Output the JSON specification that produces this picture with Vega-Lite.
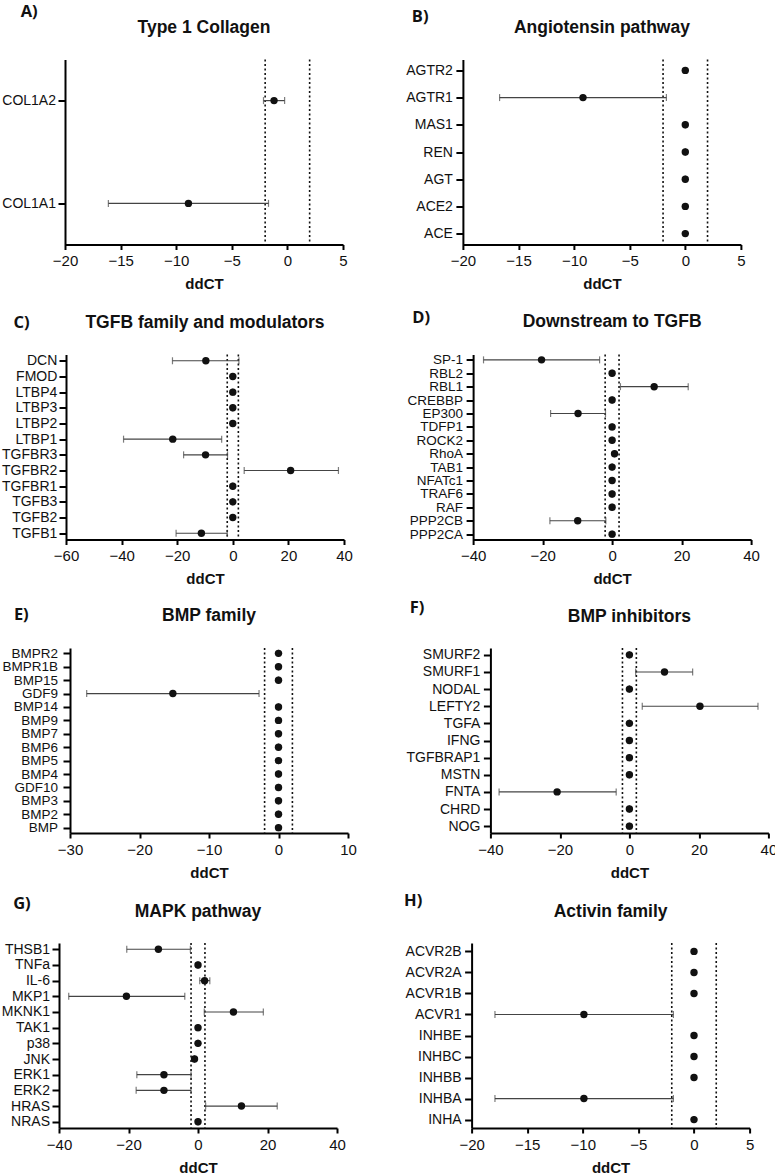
{
  "$schema": "https://vega.github.io/schema/vega-lite/v6.json",
  "background": "white",
  "padding": {"left": 0, "top": 3.5, "right": 0, "bottom": 0},
  "datasets": {
    "cuts": [{"cut": -2}, {"cut": 2}],
    "none": [],
    "genes": [
      {"panel": "A", "gene": "COL1A2", "ddct": -1.2, "lo": -2.15, "hi": -0.25},
      {"panel": "A", "gene": "COL1A1", "ddct": -8.9, "lo": -16.1, "hi": -1.7},

      {"panel": "B", "gene": "AGTR2", "ddct": 0, "lo": 0, "hi": 0},
      {"panel": "B", "gene": "AGTR1", "ddct": -9.2, "lo": -16.7, "hi": -1.7},
      {"panel": "B", "gene": "MAS1", "ddct": 0, "lo": 0, "hi": 0},
      {"panel": "B", "gene": "REN", "ddct": 0, "lo": 0, "hi": 0},
      {"panel": "B", "gene": "AGT", "ddct": 0, "lo": 0, "hi": 0},
      {"panel": "B", "gene": "ACE2", "ddct": 0, "lo": 0, "hi": 0},
      {"panel": "B", "gene": "ACE", "ddct": 0, "lo": 0, "hi": 0},

      {"panel": "C", "gene": "DCN", "ddct": -9.7, "lo": -21.7, "hi": 2.2},
      {"panel": "C", "gene": "FMOD", "ddct": 0, "lo": 0, "hi": 0},
      {"panel": "C", "gene": "LTBP4", "ddct": 0, "lo": 0, "hi": 0},
      {"panel": "C", "gene": "LTBP3", "ddct": 0, "lo": 0, "hi": 0},
      {"panel": "C", "gene": "LTBP2", "ddct": 0, "lo": 0, "hi": 0},
      {"panel": "C", "gene": "LTBP1", "ddct": -21.6, "lo": -39.3, "hi": -4.0},
      {"panel": "C", "gene": "TGFBR3", "ddct": -9.8, "lo": -17.7, "hi": -1.9},
      {"panel": "C", "gene": "TGFBR2", "ddct": 20.8, "lo": 4.1, "hi": 38.0},
      {"panel": "C", "gene": "TGFBR1", "ddct": 0, "lo": 0, "hi": 0},
      {"panel": "C", "gene": "TGFB3", "ddct": 0, "lo": 0, "hi": 0},
      {"panel": "C", "gene": "TGFB2", "ddct": 0, "lo": 0, "hi": 0},
      {"panel": "C", "gene": "TGFB1", "ddct": -11.3, "lo": -20.4, "hi": -2.0},

      {"panel": "D", "gene": "SP-1", "ddct": -20.3, "lo": -37.0, "hi": -3.6},
      {"panel": "D", "gene": "RBL2", "ddct": 0, "lo": 0, "hi": 0},
      {"panel": "D", "gene": "RBL1", "ddct": 12.1, "lo": 2.4, "hi": 21.9},
      {"panel": "D", "gene": "CREBBP", "ddct": 0, "lo": 0, "hi": 0},
      {"panel": "D", "gene": "EP300", "ddct": -9.8, "lo": -17.7, "hi": -1.9},
      {"panel": "D", "gene": "TDFP1", "ddct": 0, "lo": 0, "hi": 0},
      {"panel": "D", "gene": "ROCK2", "ddct": 0, "lo": 0, "hi": 0},
      {"panel": "D", "gene": "RhoA", "ddct": 0.7, "lo": 0.7, "hi": 0.7},
      {"panel": "D", "gene": "TAB1", "ddct": 0, "lo": 0, "hi": 0},
      {"panel": "D", "gene": "NFATc1", "ddct": 0, "lo": 0, "hi": 0},
      {"panel": "D", "gene": "TRAF6", "ddct": 0, "lo": 0, "hi": 0},
      {"panel": "D", "gene": "RAF", "ddct": 0, "lo": 0, "hi": 0},
      {"panel": "D", "gene": "PPP2CB", "ddct": -9.9, "lo": -17.9, "hi": -1.8},
      {"panel": "D", "gene": "PPP2CA", "ddct": 0, "lo": 0, "hi": 0},

      {"panel": "E", "gene": "BMPR2", "ddct": 0, "lo": 0, "hi": 0},
      {"panel": "E", "gene": "BMPR1B", "ddct": 0, "lo": 0, "hi": 0},
      {"panel": "E", "gene": "BMP15", "ddct": 0, "lo": 0, "hi": 0},
      {"panel": "E", "gene": "GDF9", "ddct": -15.2, "lo": -27.6, "hi": -2.8},
      {"panel": "E", "gene": "BMP14", "ddct": 0, "lo": 0, "hi": 0},
      {"panel": "E", "gene": "BMP9", "ddct": 0, "lo": 0, "hi": 0},
      {"panel": "E", "gene": "BMP7", "ddct": 0, "lo": 0, "hi": 0},
      {"panel": "E", "gene": "BMP6", "ddct": 0, "lo": 0, "hi": 0},
      {"panel": "E", "gene": "BMP5", "ddct": 0, "lo": 0, "hi": 0},
      {"panel": "E", "gene": "BMP4", "ddct": 0, "lo": 0, "hi": 0},
      {"panel": "E", "gene": "GDF10", "ddct": 0, "lo": 0, "hi": 0},
      {"panel": "E", "gene": "BMP3", "ddct": 0, "lo": 0, "hi": 0},
      {"panel": "E", "gene": "BMP2", "ddct": 0, "lo": 0, "hi": 0},
      {"panel": "E", "gene": "BMP", "ddct": 0, "lo": 0, "hi": 0},

      {"panel": "F", "gene": "SMURF2", "ddct": 0, "lo": 0, "hi": 0},
      {"panel": "F", "gene": "SMURF1", "ddct": 10.1, "lo": 1.8, "hi": 18.2},
      {"panel": "F", "gene": "NODAL", "ddct": 0, "lo": 0, "hi": 0},
      {"panel": "F", "gene": "LEFTY2", "ddct": 20.3, "lo": 3.7, "hi": 37.0},
      {"panel": "F", "gene": "TGFA", "ddct": 0, "lo": 0, "hi": 0},
      {"panel": "F", "gene": "IFNG", "ddct": 0, "lo": 0, "hi": 0},
      {"panel": "F", "gene": "TGFBRAP1", "ddct": 0, "lo": 0, "hi": 0},
      {"panel": "F", "gene": "MSTN", "ddct": 0, "lo": 0, "hi": 0},
      {"panel": "F", "gene": "FNTA", "ddct": -20.8, "lo": -37.5, "hi": -3.8},
      {"panel": "F", "gene": "CHRD", "ddct": 0, "lo": 0, "hi": 0},
      {"panel": "F", "gene": "NOG", "ddct": 0, "lo": 0, "hi": 0},

      {"panel": "G", "gene": "THSB1", "ddct": -11.4, "lo": -20.5, "hi": -2.2},
      {"panel": "G", "gene": "TNFa", "ddct": 0, "lo": 0, "hi": 0},
      {"panel": "G", "gene": "IL-6", "ddct": 1.9, "lo": 0.5, "hi": 3.4},
      {"panel": "G", "gene": "MKP1", "ddct": -20.6, "lo": -37.2, "hi": -3.8},
      {"panel": "G", "gene": "MKNK1", "ddct": 10.2, "lo": 1.8, "hi": 18.8},
      {"panel": "G", "gene": "TAK1", "ddct": 0, "lo": 0, "hi": 0},
      {"panel": "G", "gene": "p38", "ddct": 0, "lo": 0, "hi": 0},
      {"panel": "G", "gene": "JNK", "ddct": -1.0, "lo": -1.0, "hi": -1.0},
      {"panel": "G", "gene": "ERK1", "ddct": -9.8, "lo": -17.6, "hi": -2.0},
      {"panel": "G", "gene": "ERK2", "ddct": -9.8, "lo": -17.8, "hi": -2.0},
      {"panel": "G", "gene": "HRAS", "ddct": 12.5, "lo": 2.2, "hi": 22.8},
      {"panel": "G", "gene": "NRAS", "ddct": 0, "lo": 0, "hi": 0},

      {"panel": "H", "gene": "ACVR2B", "ddct": 0, "lo": 0, "hi": 0},
      {"panel": "H", "gene": "ACVR2A", "ddct": 0, "lo": 0, "hi": 0},
      {"panel": "H", "gene": "ACVR1B", "ddct": 0, "lo": 0, "hi": 0},
      {"panel": "H", "gene": "ACVR1", "ddct": -9.9, "lo": -17.9, "hi": -1.85},
      {"panel": "H", "gene": "INHBE", "ddct": 0, "lo": 0, "hi": 0},
      {"panel": "H", "gene": "INHBC", "ddct": 0, "lo": 0, "hi": 0},
      {"panel": "H", "gene": "INHBB", "ddct": 0, "lo": 0, "hi": 0},
      {"panel": "H", "gene": "INHBA", "ddct": -9.9, "lo": -17.9, "hi": -1.85},
      {"panel": "H", "gene": "INHA", "ddct": 0, "lo": 0, "hi": 0}
    ]
  },
  "data": {"name": "genes"},
  "columns": 1,
  "spacing": 18,
  "concat": [
    {
      "spacing": 0,
      "hconcat": [
        {"width": 1, "height": 1, "data": {"name": "none"}, "mark": {"type": "point", "opacity": 0}, "encoding": {}},
        {
          "spacing": 56.9,
          "hconcat": [
            {
              "title": {"text": "A)", "font": "Open Sans", "fontSize": 16.5, "fontWeight": "bold", "anchor": "start", "frame": "bounds", "offset": 3.5, "dx": 18.9, "dy": 5},
              "vconcat": [{
                "width": 278, "height": 185,
                "title": "Type 1 Collagen",
                "layer": [
                  {"data": {"name": "cuts"}, "mark": {"type": "rule", "strokeDash": [2, 2.5], "strokeWidth": 1.6, "color": "#111"}, "encoding": {"x": {"field": "cut", "type": "quantitative", "title": "ddCT"}}},
                  {"transform": [{"filter": "datum.panel === 'A'"}], "mark": {"type": "rule", "color": "#444", "strokeWidth": 1.2}, "encoding": {"y": {"field": "gene", "type": "nominal", "sort": ["COL1A2", "COL1A1"], "scale": {"type": "point", "padding": 0.4}, "axis": {"title": null, "labelPadding": 2.5}}, "x": {"field": "lo", "type": "quantitative", "title": "ddCT"}, "x2": {"field": "hi"}}},
                  {"transform": [{"filter": "datum.panel === 'A'"}], "mark": {"type": "tick", "color": "#444", "thickness": 1.2, "size": 7}, "encoding": {"y": {"field": "gene", "type": "nominal", "sort": ["COL1A2", "COL1A1"]}, "x": {"field": "lo", "type": "quantitative", "title": "ddCT"}}},
                  {"transform": [{"filter": "datum.panel === 'A'"}], "mark": {"type": "tick", "color": "#444", "thickness": 1.2, "size": 7}, "encoding": {"y": {"field": "gene", "type": "nominal", "sort": ["COL1A2", "COL1A1"]}, "x": {"field": "hi", "type": "quantitative", "title": "ddCT"}}},
                  {"transform": [{"filter": "datum.panel === 'A'"}], "mark": {"type": "point", "filled": true, "size": 55, "color": "#111", "opacity": 1}, "encoding": {"y": {"field": "gene", "type": "nominal", "sort": ["COL1A2", "COL1A1"]}, "x": {"field": "ddct", "type": "quantitative", "title": "ddCT", "scale": {"domain": [-20, 5], "nice": false, "zero": false}, "axis": {"values": [-20, -15, -10, -5, 0, 5]}}}}
                ]
              }]
            },
            {
              "title": {"text": "B)", "font": "Open Sans", "fontSize": 16.5, "fontWeight": "bold", "anchor": "start", "frame": "bounds", "offset": 3.5, "dx": 6.1, "dy": 9.5},
              "vconcat": [{
                "width": 278, "height": 185,
                "title": "Angiotensin pathway",
                "layer": [
                  {"data": {"name": "cuts"}, "mark": {"type": "rule", "strokeDash": [2, 2.5], "strokeWidth": 1.6, "color": "#111"}, "encoding": {"x": {"field": "cut", "type": "quantitative", "title": "ddCT"}}},
                  {"transform": [{"filter": "datum.panel === 'B'"}], "mark": {"type": "rule", "color": "#444", "strokeWidth": 1.2}, "encoding": {"y": {"field": "gene", "type": "nominal", "sort": ["AGTR2", "AGTR1", "MAS1", "REN", "AGT", "ACE2", "ACE"], "scale": {"type": "point", "padding": 0.4}, "axis": {"title": null}}, "x": {"field": "lo", "type": "quantitative", "title": "ddCT"}, "x2": {"field": "hi"}}},
                  {"transform": [{"filter": "datum.panel === 'B'"}], "mark": {"type": "tick", "color": "#444", "thickness": 1.2, "size": 7}, "encoding": {"y": {"field": "gene", "type": "nominal", "sort": ["AGTR2", "AGTR1", "MAS1", "REN", "AGT", "ACE2", "ACE"]}, "x": {"field": "lo", "type": "quantitative", "title": "ddCT"}}},
                  {"transform": [{"filter": "datum.panel === 'B'"}], "mark": {"type": "tick", "color": "#444", "thickness": 1.2, "size": 7}, "encoding": {"y": {"field": "gene", "type": "nominal", "sort": ["AGTR2", "AGTR1", "MAS1", "REN", "AGT", "ACE2", "ACE"]}, "x": {"field": "hi", "type": "quantitative", "title": "ddCT"}}},
                  {"transform": [{"filter": "datum.panel === 'B'"}], "mark": {"type": "point", "filled": true, "size": 55, "color": "#111", "opacity": 1}, "encoding": {"y": {"field": "gene", "type": "nominal", "sort": ["AGTR2", "AGTR1", "MAS1", "REN", "AGT", "ACE2", "ACE"]}, "x": {"field": "ddct", "type": "quantitative", "title": "ddCT", "scale": {"domain": [-20, 5], "nice": false, "zero": false}, "axis": {"values": [-20, -15, -10, -5, 0, 5]}}}}
                ]
              }]
            }
          ]
        }
      ]
    },
    {
      "columns": 1,
      "spacing": 12.5,
      "concat": [
        {
          "spacing": 0,
          "hconcat": [
            {"width": 1, "height": 1, "data": {"name": "none"}, "mark": {"type": "point", "opacity": 0}, "encoding": {}},
            {
              "spacing": 53.1,
              "hconcat": [
                {
                  "title": {"text": "C)", "font": "Open Sans", "fontSize": 16.5, "fontWeight": "bold", "anchor": "start", "frame": "bounds", "offset": 3.5, "dx": 11.9, "dy": 20.6},
                  "vconcat": [{
                    "width": 278, "height": 185,
                    "title": "TGFB family and modulators",
                    "layer": [
                      {"data": {"name": "cuts"}, "mark": {"type": "rule", "strokeDash": [2, 2.5], "strokeWidth": 1.6, "color": "#111"}, "encoding": {"x": {"field": "cut", "type": "quantitative", "title": "ddCT"}}},
                      {"transform": [{"filter": "datum.panel === 'C'"}], "mark": {"type": "rule", "color": "#444", "strokeWidth": 1.2}, "encoding": {"y": {"field": "gene", "type": "nominal", "sort": ["DCN", "FMOD", "LTBP4", "LTBP3", "LTBP2", "LTBP1", "TGFBR3", "TGFBR2", "TGFBR1", "TGFB3", "TGFB2", "TGFB1"], "scale": {"type": "point", "padding": 0.4}, "axis": {"title": null, "labelPadding": 2.2}}, "x": {"field": "lo", "type": "quantitative", "title": "ddCT"}, "x2": {"field": "hi"}}},
                      {"transform": [{"filter": "datum.panel === 'C'"}], "mark": {"type": "tick", "color": "#444", "thickness": 1.2, "size": 7}, "encoding": {"y": {"field": "gene", "type": "nominal", "sort": ["DCN", "FMOD", "LTBP4", "LTBP3", "LTBP2", "LTBP1", "TGFBR3", "TGFBR2", "TGFBR1", "TGFB3", "TGFB2", "TGFB1"]}, "x": {"field": "lo", "type": "quantitative", "title": "ddCT"}}},
                      {"transform": [{"filter": "datum.panel === 'C'"}], "mark": {"type": "tick", "color": "#444", "thickness": 1.2, "size": 7}, "encoding": {"y": {"field": "gene", "type": "nominal", "sort": ["DCN", "FMOD", "LTBP4", "LTBP3", "LTBP2", "LTBP1", "TGFBR3", "TGFBR2", "TGFBR1", "TGFB3", "TGFB2", "TGFB1"]}, "x": {"field": "hi", "type": "quantitative", "title": "ddCT"}}},
                      {"transform": [{"filter": "datum.panel === 'C'"}], "mark": {"type": "point", "filled": true, "size": 55, "color": "#111", "opacity": 1}, "encoding": {"y": {"field": "gene", "type": "nominal", "sort": ["DCN", "FMOD", "LTBP4", "LTBP3", "LTBP2", "LTBP1", "TGFBR3", "TGFBR2", "TGFBR1", "TGFB3", "TGFB2", "TGFB1"]}, "x": {"field": "ddct", "type": "quantitative", "title": "ddCT", "scale": {"domain": [-60, 40], "nice": false, "zero": false}, "axis": {"values": [-60, -40, -20, 0, 20, 40]}}}}
                    ]
                  }]
                },
                {
                  "title": {"text": "D)", "font": "Open Sans", "fontSize": 16.5, "fontWeight": "bold", "anchor": "start", "frame": "bounds", "offset": 3.5, "dx": 5.1, "dy": 16.6},
                  "vconcat": [{
                    "width": 278, "height": 185,
                    "title": "Downstream to TGFB",
                    "layer": [
                      {"data": {"name": "cuts"}, "mark": {"type": "rule", "strokeDash": [2, 2.5], "strokeWidth": 1.6, "color": "#111"}, "encoding": {"x": {"field": "cut", "type": "quantitative", "title": "ddCT"}}},
                      {"transform": [{"filter": "datum.panel === 'D'"}], "mark": {"type": "rule", "color": "#444", "strokeWidth": 1.2}, "encoding": {"y": {"field": "gene", "type": "nominal", "sort": ["SP-1", "RBL2", "RBL1", "CREBBP", "EP300", "TDFP1", "ROCK2", "RhoA", "TAB1", "NFATc1", "TRAF6", "RAF", "PPP2CB", "PPP2CA"], "scale": {"type": "point", "padding": 0.4}, "axis": {"title": null, "labelFontSize": 13.5}}, "x": {"field": "lo", "type": "quantitative", "title": "ddCT"}, "x2": {"field": "hi"}}},
                      {"transform": [{"filter": "datum.panel === 'D'"}], "mark": {"type": "tick", "color": "#444", "thickness": 1.2, "size": 7}, "encoding": {"y": {"field": "gene", "type": "nominal", "sort": ["SP-1", "RBL2", "RBL1", "CREBBP", "EP300", "TDFP1", "ROCK2", "RhoA", "TAB1", "NFATc1", "TRAF6", "RAF", "PPP2CB", "PPP2CA"]}, "x": {"field": "lo", "type": "quantitative", "title": "ddCT"}}},
                      {"transform": [{"filter": "datum.panel === 'D'"}], "mark": {"type": "tick", "color": "#444", "thickness": 1.2, "size": 7}, "encoding": {"y": {"field": "gene", "type": "nominal", "sort": ["SP-1", "RBL2", "RBL1", "CREBBP", "EP300", "TDFP1", "ROCK2", "RhoA", "TAB1", "NFATc1", "TRAF6", "RAF", "PPP2CB", "PPP2CA"]}, "x": {"field": "hi", "type": "quantitative", "title": "ddCT"}}},
                      {"transform": [{"filter": "datum.panel === 'D'"}], "mark": {"type": "point", "filled": true, "size": 55, "color": "#111", "opacity": 1}, "encoding": {"y": {"field": "gene", "type": "nominal", "sort": ["SP-1", "RBL2", "RBL1", "CREBBP", "EP300", "TDFP1", "ROCK2", "RhoA", "TAB1", "NFATc1", "TRAF6", "RAF", "PPP2CB", "PPP2CA"]}, "x": {"field": "ddct", "type": "quantitative", "title": "ddCT", "scale": {"domain": [-40, 40], "nice": false, "zero": false}, "axis": {"values": [-40, -20, 0, 20, 40]}}}}
                    ]
                  }]
                }
              ]
            }
          ]
        },
        {
          "columns": 1,
          "spacing": 13,
          "concat": [
            {
              "spacing": 0,
              "hconcat": [
                {"width": 1, "height": 1, "data": {"name": "none"}, "mark": {"type": "point", "opacity": 0}, "encoding": {}},
                {
                  "spacing": 48.4,
                  "hconcat": [
                    {
                      "title": {"text": "E)", "font": "Open Sans", "fontSize": 16.5, "fontWeight": "bold", "anchor": "start", "frame": "bounds", "offset": 3.5, "dx": 11.9, "dy": 19.9},
                      "vconcat": [{
                        "width": 278, "height": 185,
                        "title": "BMP family",
                        "layer": [
                          {"data": {"name": "cuts"}, "mark": {"type": "rule", "strokeDash": [2, 2.5], "strokeWidth": 1.6, "color": "#111"}, "encoding": {"x": {"field": "cut", "type": "quantitative", "title": "ddCT"}}},
                          {"transform": [{"filter": "datum.panel === 'E'"}], "mark": {"type": "rule", "color": "#444", "strokeWidth": 1.2}, "encoding": {"y": {"field": "gene", "type": "nominal", "sort": ["BMPR2", "BMPR1B", "BMP15", "GDF9", "BMP14", "BMP9", "BMP7", "BMP6", "BMP5", "BMP4", "GDF10", "BMP3", "BMP2", "BMP"], "scale": {"type": "point", "padding": 0.4}, "axis": {"title": null, "labelFontSize": 13.5, "labelPadding": 5.5}}, "x": {"field": "lo", "type": "quantitative", "title": "ddCT"}, "x2": {"field": "hi"}}},
                          {"transform": [{"filter": "datum.panel === 'E'"}], "mark": {"type": "tick", "color": "#444", "thickness": 1.2, "size": 7}, "encoding": {"y": {"field": "gene", "type": "nominal", "sort": ["BMPR2", "BMPR1B", "BMP15", "GDF9", "BMP14", "BMP9", "BMP7", "BMP6", "BMP5", "BMP4", "GDF10", "BMP3", "BMP2", "BMP"]}, "x": {"field": "lo", "type": "quantitative", "title": "ddCT"}}},
                          {"transform": [{"filter": "datum.panel === 'E'"}], "mark": {"type": "tick", "color": "#444", "thickness": 1.2, "size": 7}, "encoding": {"y": {"field": "gene", "type": "nominal", "sort": ["BMPR2", "BMPR1B", "BMP15", "GDF9", "BMP14", "BMP9", "BMP7", "BMP6", "BMP5", "BMP4", "GDF10", "BMP3", "BMP2", "BMP"]}, "x": {"field": "hi", "type": "quantitative", "title": "ddCT"}}},
                          {"transform": [{"filter": "datum.panel === 'E'"}], "mark": {"type": "point", "filled": true, "size": 55, "color": "#111", "opacity": 1}, "encoding": {"y": {"field": "gene", "type": "nominal", "sort": ["BMPR2", "BMPR1B", "BMP15", "GDF9", "BMP14", "BMP9", "BMP7", "BMP6", "BMP5", "BMP4", "GDF10", "BMP3", "BMP2", "BMP"]}, "x": {"field": "ddct", "type": "quantitative", "title": "ddCT", "scale": {"domain": [-30, 10], "nice": false, "zero": false}, "axis": {"values": [-30, -20, -10, 0, 10]}}}}
                        ]
                      }]
                    },
                    {
                      "title": {"text": "F)", "font": "Open Sans", "fontSize": 16.5, "fontWeight": "bold", "anchor": "start", "frame": "bounds", "offset": 3.5, "dx": 3.7, "dy": 12.1},
                      "vconcat": [{
                        "width": 278, "height": 185,
                        "title": "BMP inhibitors",
                        "layer": [
                          {"data": {"name": "cuts"}, "mark": {"type": "rule", "strokeDash": [2, 2.5], "strokeWidth": 1.6, "color": "#111"}, "encoding": {"x": {"field": "cut", "type": "quantitative", "title": "ddCT"}}},
                          {"transform": [{"filter": "datum.panel === 'F'"}], "mark": {"type": "rule", "color": "#444", "strokeWidth": 1.2}, "encoding": {"y": {"field": "gene", "type": "nominal", "sort": ["SMURF2", "SMURF1", "NODAL", "LEFTY2", "TGFA", "IFNG", "TGFBRAP1", "MSTN", "FNTA", "CHRD", "NOG"], "scale": {"type": "point", "padding": 0.4}, "axis": {"title": null}}, "x": {"field": "lo", "type": "quantitative", "title": "ddCT"}, "x2": {"field": "hi"}}},
                          {"transform": [{"filter": "datum.panel === 'F'"}], "mark": {"type": "tick", "color": "#444", "thickness": 1.2, "size": 7}, "encoding": {"y": {"field": "gene", "type": "nominal", "sort": ["SMURF2", "SMURF1", "NODAL", "LEFTY2", "TGFA", "IFNG", "TGFBRAP1", "MSTN", "FNTA", "CHRD", "NOG"]}, "x": {"field": "lo", "type": "quantitative", "title": "ddCT"}}},
                          {"transform": [{"filter": "datum.panel === 'F'"}], "mark": {"type": "tick", "color": "#444", "thickness": 1.2, "size": 7}, "encoding": {"y": {"field": "gene", "type": "nominal", "sort": ["SMURF2", "SMURF1", "NODAL", "LEFTY2", "TGFA", "IFNG", "TGFBRAP1", "MSTN", "FNTA", "CHRD", "NOG"]}, "x": {"field": "hi", "type": "quantitative", "title": "ddCT"}}},
                          {"transform": [{"filter": "datum.panel === 'F'"}], "mark": {"type": "point", "filled": true, "size": 55, "color": "#111", "opacity": 1}, "encoding": {"y": {"field": "gene", "type": "nominal", "sort": ["SMURF2", "SMURF1", "NODAL", "LEFTY2", "TGFA", "IFNG", "TGFBRAP1", "MSTN", "FNTA", "CHRD", "NOG"]}, "x": {"field": "ddct", "type": "quantitative", "title": "ddCT", "scale": {"domain": [-40, 40], "nice": false, "zero": false}, "axis": {"values": [-40, -20, 0, 20, 40]}}}}
                        ]
                      }]
                    }
                  ]
                }
              ]
            },
            {
              "spacing": 0,
              "hconcat": [
                {"width": 1, "height": 1, "data": {"name": "none"}, "mark": {"type": "point", "opacity": 0}, "encoding": {}},
                {
                  "spacing": 57.6,
                  "hconcat": [
                    {
                      "title": {"text": "G)", "font": "Open Sans", "fontSize": 16.5, "fontWeight": "bold", "anchor": "start", "frame": "bounds", "offset": 3.5, "dx": 11.9, "dy": 13.6},
                      "vconcat": [{
                        "width": 278, "height": 185,
                        "title": "MAPK pathway",
                        "layer": [
                          {"data": {"name": "cuts"}, "mark": {"type": "rule", "strokeDash": [2, 2.5], "strokeWidth": 1.6, "color": "#111"}, "encoding": {"x": {"field": "cut", "type": "quantitative", "title": "ddCT"}}},
                          {"transform": [{"filter": "datum.panel === 'G'"}], "mark": {"type": "rule", "color": "#444", "strokeWidth": 1.2}, "encoding": {"y": {"field": "gene", "type": "nominal", "sort": ["THSB1", "TNFa", "IL-6", "MKP1", "MKNK1", "TAK1", "p38", "JNK", "ERK1", "ERK2", "HRAS", "NRAS"], "scale": {"type": "point", "padding": 0.4}, "axis": {"title": null, "labelPadding": 2.5}}, "x": {"field": "lo", "type": "quantitative", "title": "ddCT"}, "x2": {"field": "hi"}}},
                          {"transform": [{"filter": "datum.panel === 'G'"}], "mark": {"type": "tick", "color": "#444", "thickness": 1.2, "size": 7}, "encoding": {"y": {"field": "gene", "type": "nominal", "sort": ["THSB1", "TNFa", "IL-6", "MKP1", "MKNK1", "TAK1", "p38", "JNK", "ERK1", "ERK2", "HRAS", "NRAS"]}, "x": {"field": "lo", "type": "quantitative", "title": "ddCT"}}},
                          {"transform": [{"filter": "datum.panel === 'G'"}], "mark": {"type": "tick", "color": "#444", "thickness": 1.2, "size": 7}, "encoding": {"y": {"field": "gene", "type": "nominal", "sort": ["THSB1", "TNFa", "IL-6", "MKP1", "MKNK1", "TAK1", "p38", "JNK", "ERK1", "ERK2", "HRAS", "NRAS"]}, "x": {"field": "hi", "type": "quantitative", "title": "ddCT"}}},
                          {"transform": [{"filter": "datum.panel === 'G'"}], "mark": {"type": "point", "filled": true, "size": 55, "color": "#111", "opacity": 1}, "encoding": {"y": {"field": "gene", "type": "nominal", "sort": ["THSB1", "TNFa", "IL-6", "MKP1", "MKNK1", "TAK1", "p38", "JNK", "ERK1", "ERK2", "HRAS", "NRAS"]}, "x": {"field": "ddct", "type": "quantitative", "title": "ddCT", "scale": {"domain": [-40, 40], "nice": false, "zero": false}, "axis": {"values": [-40, -20, 0, 20, 40]}}}}
                        ]
                      }]
                    },
                    {
                      "title": {"text": "H)", "font": "Open Sans", "fontSize": 16.5, "fontWeight": "bold", "anchor": "start", "frame": "bounds", "offset": 3.5, "dx": -1, "dy": 10.3},
                      "vconcat": [{
                        "width": 278, "height": 185,
                        "title": "Activin family",
                        "layer": [
                          {"data": {"name": "cuts"}, "mark": {"type": "rule", "strokeDash": [2, 2.5], "strokeWidth": 1.6, "color": "#111"}, "encoding": {"x": {"field": "cut", "type": "quantitative", "title": "ddCT"}}},
                          {"transform": [{"filter": "datum.panel === 'H'"}], "mark": {"type": "rule", "color": "#444", "strokeWidth": 1.2}, "encoding": {"y": {"field": "gene", "type": "nominal", "sort": ["ACVR2B", "ACVR2A", "ACVR1B", "ACVR1", "INHBE", "INHBC", "INHBB", "INHBA", "INHA"], "scale": {"type": "point", "padding": 0.4}, "axis": {"title": null}}, "x": {"field": "lo", "type": "quantitative", "title": "ddCT"}, "x2": {"field": "hi"}}},
                          {"transform": [{"filter": "datum.panel === 'H'"}], "mark": {"type": "tick", "color": "#444", "thickness": 1.2, "size": 7}, "encoding": {"y": {"field": "gene", "type": "nominal", "sort": ["ACVR2B", "ACVR2A", "ACVR1B", "ACVR1", "INHBE", "INHBC", "INHBB", "INHBA", "INHA"]}, "x": {"field": "lo", "type": "quantitative", "title": "ddCT"}}},
                          {"transform": [{"filter": "datum.panel === 'H'"}], "mark": {"type": "tick", "color": "#444", "thickness": 1.2, "size": 7}, "encoding": {"y": {"field": "gene", "type": "nominal", "sort": ["ACVR2B", "ACVR2A", "ACVR1B", "ACVR1", "INHBE", "INHBC", "INHBB", "INHBA", "INHA"]}, "x": {"field": "hi", "type": "quantitative", "title": "ddCT"}}},
                          {"transform": [{"filter": "datum.panel === 'H'"}], "mark": {"type": "point", "filled": true, "size": 55, "color": "#111", "opacity": 1}, "encoding": {"y": {"field": "gene", "type": "nominal", "sort": ["ACVR2B", "ACVR2A", "ACVR1B", "ACVR1", "INHBE", "INHBC", "INHBB", "INHBA", "INHA"]}, "x": {"field": "ddct", "type": "quantitative", "title": "ddCT", "scale": {"domain": [-20, 5], "nice": false, "zero": false}, "axis": {"values": [-20, -15, -10, -5, 0, 5]}}}}
                        ]
                      }]
                    }
                  ]
                }
              ]
            }
          ]
        }
      ]
    }
  ],
  "config": {
    "view": {"stroke": null},
    "font": "Liberation Sans",
    "axis": {"domainColor": "#000", "domainWidth": 2, "tickColor": "#000", "tickWidth": 2, "grid": false, "labelColor": "#111", "labelFont": "Liberation Sans", "titleFont": "Liberation Sans", "titleColor": "#111"},
    "axisX": {"tickSize": 5, "labelFontSize": 15, "labelPadding": 4, "labelFlush": false, "labelOverlap": false, "titleFontSize": 15, "titleFontWeight": "bold", "titlePadding": 8},
    "axisY": {"tickSize": 7, "labelFontSize": 14, "labelPadding": 3.5},
    "title": {"font": "Liberation Sans", "fontSize": 17.5, "fontWeight": "bold", "color": "#111", "anchor": "middle", "frame": "group", "baseline": "alphabetic", "offset": 22}
  }
}
